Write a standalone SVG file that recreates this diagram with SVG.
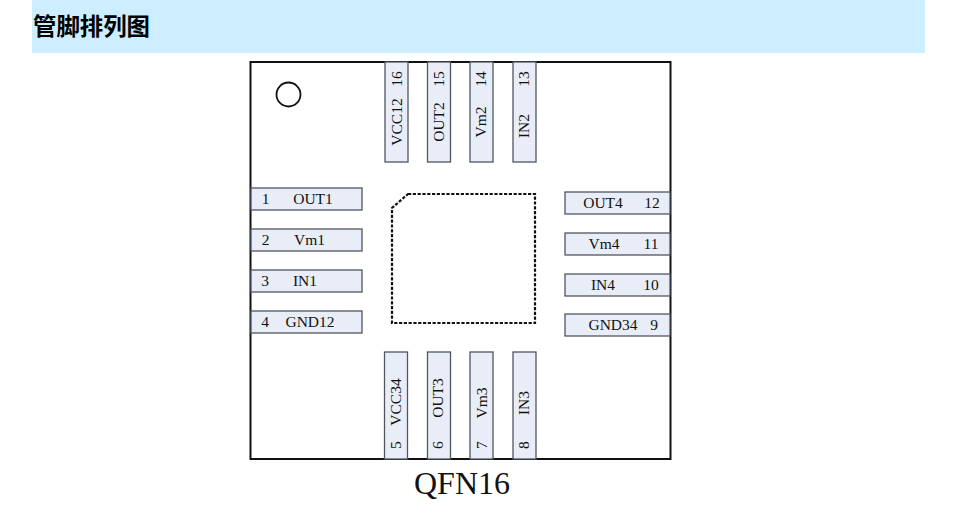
<svg xmlns="http://www.w3.org/2000/svg" width="960" height="507" viewBox="0 0 960 507">
<style>
.pin{fill:#e8edf8;stroke:#50565e;stroke-width:1.3}
.t{font-family:"Liberation Serif","Times New Roman",serif;font-size:15.5px;fill:#111;text-anchor:middle}
</style>
<rect x="0" y="0" width="960" height="507" fill="#fff"/>
<g id="header">
<rect x="32" y="0" width="893" height="53" fill="#cceeff"/>
<text x="33" y="35" font-family="'Noto Sans CJK SC',sans-serif" font-size="23.4" font-weight="700" fill="#000">管脚排列图</text>
</g>
<g id="package">
<rect x="250.5" y="62" width="420" height="397" fill="#fff" stroke="#111" stroke-width="2"/>
<circle cx="288.500" cy="94.500" r="12" fill="#fff" stroke="#111" stroke-width="1.8"/>
<path d="M408 194H535V323H392V208Z" fill="none" stroke="#111" stroke-width="2.200" stroke-dasharray="3.200 1.600"/>
<text x="462" y="494" font-family="'Liberation Serif',serif" font-size="32" fill="#111" text-anchor="middle">QFN16</text>
</g>
<g id="pin1"><rect class="pin" x="251" y="188" width="111" height="22"/><text class="t" x="265.500" y="204">1</text><text class="t" x="313" y="204">OUT1</text></g>
<g id="pin2"><rect class="pin" x="251" y="229" width="111" height="22"/><text class="t" x="265.500" y="244.500">2</text><text class="t" x="309.500" y="244.500">Vm1</text></g>
<g id="pin3"><rect class="pin" x="251" y="270" width="111" height="22"/><text class="t" x="265" y="285.500">3</text><text class="t" x="305" y="285.500">IN1</text></g>
<g id="pin4"><rect class="pin" x="251" y="311" width="111" height="22"/><text class="t" x="265" y="327">4</text><text class="t" x="310" y="327">GND12</text></g>
<g id="pin12"><rect class="pin" x="565" y="192" width="105" height="22"/><text class="t" x="603" y="208">OUT4</text><text class="t" x="652" y="208">12</text></g>
<g id="pin11"><rect class="pin" x="565" y="233" width="105" height="22"/><text class="t" x="604" y="248.500">Vm4</text><text class="t" x="651" y="248.500">11</text></g>
<g id="pin10"><rect class="pin" x="565" y="274" width="105" height="22"/><text class="t" x="603" y="289.500">IN4</text><text class="t" x="651" y="289.500">10</text></g>
<g id="pin9"><rect class="pin" x="565" y="314" width="105" height="22"/><text class="t" x="613" y="330">GND34</text><text class="t" x="654" y="330">9</text></g>
<g id="pin16"><rect class="pin" x="385" y="62" width="23" height="100"/><text class="t" transform="translate(401.500 122) rotate(-90)">VCC12</text><text class="t" transform="translate(401.500 79) rotate(-90)">16</text></g>
<g id="pin15"><rect class="pin" x="427.500" y="62" width="23" height="100"/><text class="t" transform="translate(443.500 122) rotate(-90)">OUT2</text><text class="t" transform="translate(443.500 79) rotate(-90)">15</text></g>
<g id="pin14"><rect class="pin" x="470" y="62" width="23" height="100"/><text class="t" transform="translate(486 122) rotate(-90)">Vm2</text><text class="t" transform="translate(486 79) rotate(-90)">14</text></g>
<g id="pin13"><rect class="pin" x="513" y="62" width="23" height="100"/><text class="t" transform="translate(528.500 126) rotate(-90)">IN2</text><text class="t" transform="translate(528.500 79) rotate(-90)">13</text></g>
<g id="pin5"><rect class="pin" x="384.500" y="352" width="23" height="107"/><text class="t" transform="translate(400.500 402) rotate(-90)">VCC34</text><text class="t" transform="translate(400.500 445) rotate(-90)">5</text></g>
<g id="pin6"><rect class="pin" x="427.500" y="352" width="23" height="107"/><text class="t" transform="translate(443 398) rotate(-90)">OUT3</text><text class="t" transform="translate(443 445) rotate(-90)">6</text></g>
<g id="pin7"><rect class="pin" x="470" y="352" width="23" height="107"/><text class="t" transform="translate(486.500 403) rotate(-90)">Vm3</text><text class="t" transform="translate(486.500 445) rotate(-90)">7</text></g>
<g id="pin8"><rect class="pin" x="513" y="352" width="23" height="107"/><text class="t" transform="translate(529 403) rotate(-90)">IN3</text><text class="t" transform="translate(529 445) rotate(-90)">8</text></g>
</svg>
